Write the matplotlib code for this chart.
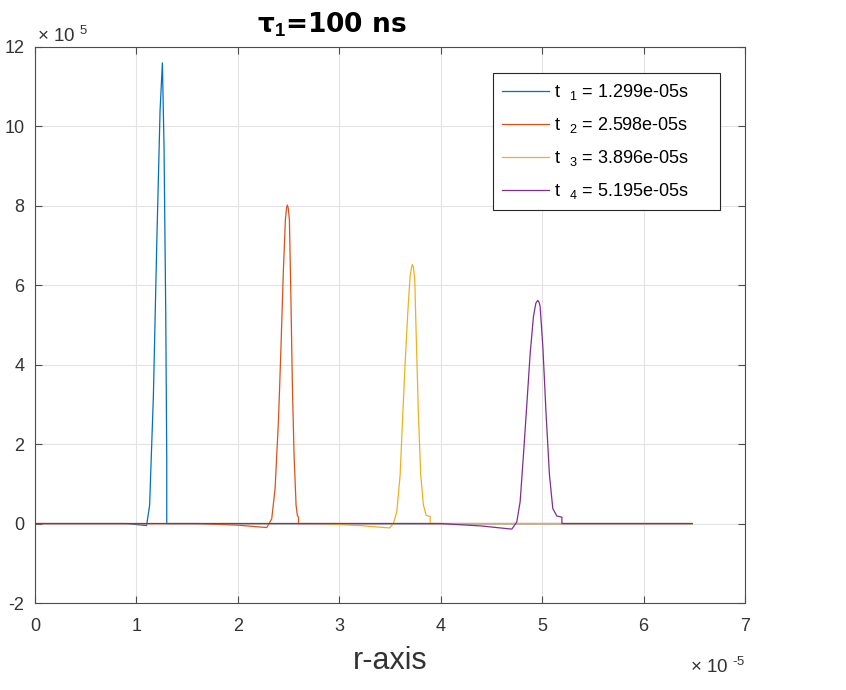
import numpy as np
import matplotlib
matplotlib.use('Agg')
import matplotlib.pyplot as plt
from matplotlib.ticker import FuncFormatter

plt.rcParams['font.family'] = ['Liberation Sans', 'DejaVu Sans']
plt.rcParams['mathtext.fontset'] = 'custom'
plt.rcParams['mathtext.rm'] = 'Liberation Sans'
plt.rcParams['mathtext.it'] = 'Liberation Sans:italic'
plt.rcParams['mathtext.bf'] = 'Liberation Sans:bold'
plt.rcParams['axes.unicode_minus'] = False

# r in units of 1e-5, values in units of 1e5
r1 = [0.0, 0.90, 1.10, 1.13, 1.167, 1.20, 1.233, 1.256, 1.272, 1.289, 1.299, 1.299, 6.48]
v1 = [0.0, 0.0, -0.05, 0.46, 3.2, 7.0, 10.4, 11.6, 9.5, 5.3, 1.6, 0.0, 0.0]

r2 = [0.0, 1.60, 2.00, 2.285, 2.334, 2.367, 2.40, 2.423, 2.449, 2.469, 2.480, 2.488, 2.496,
      2.508, 2.521, 2.538, 2.554, 2.574, 2.587, 2.598, 2.598, 6.48]
v2 = [0.0, 0.0, -0.04, -0.10, 0.12, 0.88, 2.58, 4.27, 6.39, 7.66, 7.95, 8.02, 7.95,
      7.66, 5.97, 3.42, 1.73, 0.46, 0.20, 0.16, 0.0, 0.0]

r3 = [0.0, 2.80, 3.20, 3.495, 3.534, 3.567, 3.60, 3.626, 3.649, 3.675, 3.698, 3.712, 3.721, 3.731,
      3.744, 3.757, 3.78, 3.803, 3.829, 3.856, 3.879, 3.896, 3.896, 6.48]
v3 = [0.0, 0.0, -0.05, -0.11, 0.0, 0.30, 1.23, 2.75, 4.03, 5.30, 6.23, 6.45, 6.52, 6.45,
      6.14, 4.87, 2.75, 1.23, 0.47, 0.21, 0.19, 0.18, 0.0, 0.0]

r4 = [0.0, 4.00, 4.40, 4.701, 4.75, 4.783, 4.816, 4.849, 4.882, 4.914, 4.938, 4.957, 4.970,
      4.980, 5.007, 5.039, 5.072, 5.105, 5.145, 5.180, 5.195, 5.195, 6.48]
v4 = [0.0, 0.0, -0.06, -0.14, 0.04, 0.55, 1.74, 3.00, 4.28, 5.21, 5.55, 5.62, 5.57,
      5.47, 4.45, 2.75, 1.23, 0.38, 0.19, 0.17, 0.16, 0.0, 0.0]

labels = ['t  $_1$ = 1.299e-05s', 't  $_2$ = 2.598e-05s',
          't  $_3$ = 3.896e-05s', 't  $_4$ = 5.195e-05s']
colors = ['#0072BD', '#D95319', '#EDB120', '#7E2F8E']
xticks = [0, 1, 2, 3, 4, 5, 6, 7]
yticks = [-2, 0, 2, 4, 6, 8, 10, 12]

fig = plt.figure(figsize=(8.46, 6.9), dpi=100)
ax = fig.add_axes([35/846, 87/690, 710/846, 556/690])

for r, v, lab, c in zip([r1, r2, r3, r4], [v1, v2, v3, v4], labels, colors):
    ax.plot(np.array(r) * 1e-5, np.array(v) * 1e5, color=c, lw=0.9, label=lab)

ax.set_xlim(0, 7e-5)
ax.set_ylim(-2e5, 12e5)
ax.set_xticks(np.array(xticks) * 1e-5)
ax.set_yticks(np.array(yticks) * 1e5)
ax.xaxis.set_major_formatter(FuncFormatter(lambda v, p: f'{round(v / 1e-5):d}'))
ax.yaxis.set_major_formatter(FuncFormatter(lambda v, p: f'{round(v / 1e5):d}'))

ax.grid(True, color='#e3e3e3', lw=0.8)
ax.set_axisbelow(True)
ax.tick_params(direction='in', length=5, width=0.8, colors='#4d4d4d', labelsize=13,
               top=True, right=True, labelcolor='#333333')
ax.tick_params(axis='x', pad=11)
ax.tick_params(axis='y', pad=7.5)
for s in ax.spines.values():
    s.set_color('#4d4d4d')
    s.set_linewidth(0.8)

# exponent labels, MATLAB style
ax.text(0.003, 1.009, '× 10 $^{5}$', transform=ax.transAxes, fontsize=13.5,
        color='#333333', ha='left', va='baseline')
ax.text(1.0, -0.126, '× 10 $^{\\text{-}5}$', transform=ax.transAxes, fontsize=13.5,
        color='#333333', ha='right', va='baseline')

ax.set_xlabel('r-axis', fontsize=22, color='#333333', labelpad=8)
ax.set_title('τ$_\\mathbf{1}$=100 ns', fontsize=19, fontweight='bold',
             family='DejaVu Sans', x=0.418, pad=10)

leg = ax.legend(loc='upper left', bbox_to_anchor=(0.645, 0.953, 0.3197, 0), mode='expand',
                borderaxespad=0, fontsize=13, fancybox=False, framealpha=1,
                edgecolor='#262626', handlelength=2.6, labelspacing=0.72,
                borderpad=0.5, handletextpad=0.3)
leg.get_frame().set_linewidth(0.8)

plt.savefig('out.png', dpi=100)
